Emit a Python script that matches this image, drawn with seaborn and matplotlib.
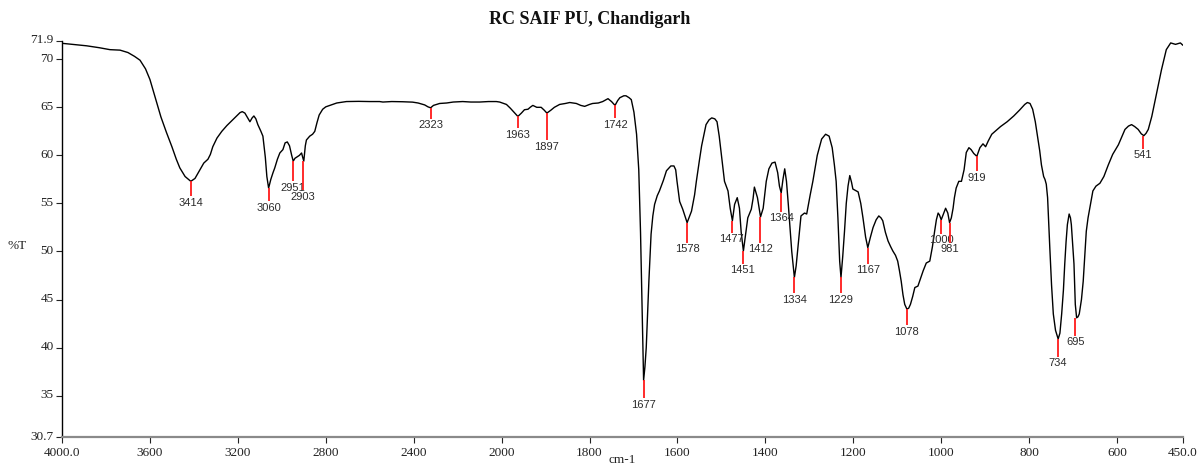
import numpy as np
import pandas as pd
import matplotlib
matplotlib.use("Agg")
import matplotlib.pyplot as plt
import matplotlib.transforms as mtransforms
import seaborn as sns

# ---------------- data ----------------
wavenumber = [
    4000, 3950, 3888, 3830, 3782, 3736, 3700, 3670, 3645, 3620, 3600, 3577, 3550, 3525,
    3500, 3480, 3464, 3440, 3414, 3395, 3375, 3355, 3336, 3325, 3314, 3295, 3273, 3250,
    3236, 3210, 3190, 3180, 3168, 3155, 3145, 3135, 3127, 3118, 3109, 3095, 3086, 3075,
    3068, 3060, 3050, 3040, 3032, 3020, 3009, 2995, 2985, 2975, 2965, 2955, 2948, 2940,
    2933, 2920, 2910, 2905, 2900, 2893, 2888, 2873, 2860, 2850, 2840, 2830, 2814, 2800,
    2782, 2750, 2706, 2650, 2600, 2555, 2540, 2500, 2450, 2405, 2380, 2350, 2335, 2323,
    2310, 2282, 2250, 2220, 2177, 2140, 2100, 2060, 2024, 2009, 1995, 1989, 1980, 1972,
    1963, 1955, 1948, 1940, 1935, 1929, 1920, 1910, 1903, 1897, 1888, 1880, 1868, 1855,
    1845, 1830, 1820, 1811, 1800, 1793, 1780, 1770, 1758, 1750, 1742, 1736, 1731, 1722,
    1717, 1710, 1705, 1699, 1693, 1688, 1684, 1680, 1677, 1674, 1671, 1668, 1665, 1660,
    1656, 1652, 1646, 1641, 1632, 1625, 1615, 1608, 1604, 1601, 1595, 1588, 1583, 1578,
    1573, 1568, 1561, 1557, 1550, 1545, 1535, 1528, 1522, 1515, 1510, 1505, 1500, 1493,
    1485, 1480, 1475, 1470, 1464, 1459, 1455, 1450, 1445, 1440, 1432, 1428, 1425, 1418,
    1411, 1405, 1398, 1392, 1385, 1378, 1372, 1368, 1364, 1360, 1356, 1352, 1348, 1345,
    1340, 1334, 1330, 1326, 1322, 1319, 1311, 1306, 1298, 1292, 1282, 1272, 1263, 1255,
    1248, 1243, 1239, 1235, 1231, 1228, 1224, 1220, 1216, 1212, 1208, 1204, 1201, 1195,
    1189, 1183, 1178, 1172, 1167, 1161, 1155, 1148, 1142, 1137, 1133, 1127, 1121, 1115,
    1110, 1104, 1099, 1095, 1091, 1087, 1083, 1078, 1074, 1070, 1065, 1060, 1053, 1047,
    1041, 1034, 1026, 1020, 1015, 1011, 1007, 1004, 1000, 995, 990, 985, 981, 977,
    973, 970, 966, 960, 954, 948, 943, 937, 932, 926, 919, 912, 905, 899,
    893, 885, 875, 865, 850, 835, 822, 810, 804, 798, 792, 786, 781, 776,
    772, 767, 764, 761, 758, 753, 749, 745, 740, 734, 730, 726, 722, 719,
    716, 713, 709, 706, 704, 701, 698, 695, 692, 689, 686, 681, 677, 673,
    670, 666, 662, 655, 648, 639, 630, 620, 610, 597, 582, 574, 567, 560,
    552, 545, 539, 534, 529, 521, 510, 499, 488, 478, 467, 456, 450,
]
transmittance = [
    71.66, 71.55, 71.4, 71.2, 71.0, 70.95, 70.7, 70.3, 69.9, 69.0, 67.9, 66.1, 64.0, 62.4,
    60.9, 59.6, 58.7, 57.8, 57.3, 57.6, 58.4, 59.2, 59.6, 60.1, 60.9, 61.8, 62.5, 63.1,
    63.4, 64.0, 64.45, 64.55, 64.4, 63.9, 63.5, 63.9, 64.1, 63.8, 63.2, 62.5, 62.0, 59.8,
    57.8, 56.6, 57.5, 58.2, 58.7, 59.6, 60.25, 60.6, 61.3, 61.4, 61.0, 60.0, 59.4, 59.7,
    59.8, 60.0, 60.25, 59.8, 59.4, 61.0, 61.6, 62.0, 62.2, 62.5, 63.4, 64.2, 64.8, 65.05,
    65.2, 65.45, 65.6, 65.62, 65.6, 65.6, 65.55, 65.6, 65.58, 65.54, 65.45, 65.25, 65.05, 64.95,
    65.2, 65.4, 65.45, 65.55, 65.6, 65.55, 65.55, 65.6, 65.6, 65.55, 65.4, 65.3, 64.9, 64.5,
    64.05, 64.4, 64.75, 64.8, 65.0, 65.2, 65.0, 65.0, 64.7, 64.4, 64.7, 65.0, 65.3, 65.4,
    65.5, 65.4, 65.2, 65.1, 65.3, 65.4, 65.45, 65.6, 65.9, 65.6, 65.2, 65.7, 66.0, 66.2,
    66.2, 66.0, 65.8, 64.5, 62.2, 58.5, 52.0, 43.0, 36.6, 38.0, 40.0, 43.5, 46.9, 51.8,
    53.7, 54.9, 55.8, 56.3, 57.4, 58.4, 58.9, 58.9, 58.5, 57.3, 55.2, 54.4, 53.7, 53.0,
    53.6, 54.2, 55.9, 57.3, 59.5, 61.0, 63.2, 63.7, 63.9, 63.8, 63.5, 62.0, 60.0, 57.3,
    56.3, 54.5, 53.2, 54.9, 55.6, 54.5, 52.0, 50.05, 51.8, 53.5, 54.4, 55.5, 56.7, 55.6,
    53.6, 54.5, 57.3, 58.6, 59.2, 59.3, 58.2, 56.8, 56.1, 57.5, 58.6, 57.3, 55.0, 53.2,
    50.0, 47.3, 48.5, 50.4, 52.3, 53.7, 54.0, 53.9, 55.9, 57.3, 60.0, 61.7, 62.2, 62.0,
    60.8, 59.0, 57.3, 53.5, 49.0, 47.3, 49.5, 52.1, 55.0, 56.8, 57.9, 57.2, 56.5, 56.35,
    56.2, 55.0, 53.5, 51.5, 50.4, 51.5, 52.5, 53.3, 53.7, 53.5, 53.2, 52.0, 51.1, 50.5,
    50.05, 49.6, 49.0, 48.0, 46.9, 45.5, 44.5, 44.0, 44.1, 44.5, 45.3, 46.25, 46.4, 47.2,
    48.0, 48.8, 49.0, 50.5, 52.1, 53.3, 54.0, 53.8, 53.3, 53.9, 54.5, 54.0, 53.0, 53.5,
    54.5, 55.6, 56.6, 57.3, 57.3, 58.5, 60.3, 60.8, 60.6, 60.2, 59.9, 60.8, 61.2, 60.9,
    61.5, 62.2, 62.6, 63.0, 63.5, 64.1, 64.7, 65.3, 65.5, 65.4, 64.8, 63.5, 62.0, 60.5,
    59.0, 57.8, 57.5, 57.0, 55.6, 50.4, 46.5, 43.5, 41.8, 40.9, 41.5, 43.5, 46.0, 48.7,
    51.0, 52.8, 53.9, 53.5, 52.8, 50.8, 48.7, 44.5, 43.1, 43.2, 43.5, 45.0, 46.9, 49.8,
    52.1, 53.5, 54.5, 56.3, 56.8, 57.1, 57.8, 59.0, 60.1, 61.1, 62.7, 63.05, 63.2, 63.0,
    62.7, 62.25, 62.05, 62.3, 62.7, 64.05, 66.5, 68.9, 71.0, 71.7, 71.55, 71.7, 71.45,
]

peak_wn = [3414, 3060, 2951, 2903, 2323, 1963, 1897, 1742, 1677, 1578, 1477, 1451,
           1412, 1364, 1334, 1229, 1167, 1078, 1000, 981, 919, 734, 695, 541]
peak_T = [57.3, 56.6, 59.4, 59.4, 64.95, 64.05, 64.4, 65.2, 36.6, 53.0, 53.2, 50.05,
          53.6, 56.1, 47.3, 47.3, 50.4, 44.0, 53.3, 53.0, 59.9, 40.9, 43.1, 62.05]

x_ticks = [4000, 3600, 3200, 2800, 2400, 2000, 1800, 1600, 1400, 1200, 1000, 800, 600, 450]
x_tick_labels = ["4000.0", "3600", "3200", "2800", "2400", "2000", "1800", "1600",
                 "1400", "1200", "1000", "800", "600", "450.0"]
y_ticks = [71.9, 70, 65, 60, 55, 50, 45, 40, 35, 30.7]
y_tick_labels = ["71.9", "70", "65", "60", "55", "50", "45", "40", "35", "30.7"]

title = "RC SAIF PU, Chandigarh"
x_label = "cm-1"
y_label = "%T"

# ---------------- layout / style ----------------
# length (px) of the red marker under each peak
marker_px = [15, 13, 20, 29, 11, 12, 27, 13, 18, 20, 12, 13,
             26, 19, 16, 16, 16, 16, 14, 20, 15, 18, 18, 13]

sns.set_style("ticks")
plt.rcParams["font.family"] = ["Liberation Serif", "DejaVu Serif"]

W, H = 1204, 466
fig = plt.figure(figsize=(W / 100, H / 100), dpi=100)
ax_l, ax_r, ax_t, ax_b = 62, 1183, 41, 437
ax = fig.add_axes([ax_l / W, 1 - ax_b / H, (ax_r - ax_l) / W, (ax_b - ax_t) / H])

df = pd.DataFrame({"wn": wavenumber, "T": transmittance})


def fwd(x):
    x = np.asarray(x, dtype=float)
    return np.where(x > 2000, 2000 + (x - 2000) / 2.0, x)


def inv(u):
    u = np.asarray(u, dtype=float)
    return np.where(u > 2000, 2000 + (u - 2000) * 2.0, u)


ax.set_xscale("function", functions=(fwd, inv))

sns.lineplot(data=df, x="wn", y="T", ax=ax, color="black", linewidth=1.0,
             estimator=None, sort=True)

ymin, ymax = 30.7, 71.9
ax.set_xlim(4000, 450)
ax.set_ylim(ymin, ymax)
px_per_unit = (ax_b - ax_t) / (ymax - ymin)

for wn, t, L, in zip(peak_wn, peak_T, marker_px):
    dy = L / px_per_unit
    ax.vlines(wn, t - dy, t, color="#ff1a1a", linewidth=1.3, zorder=3)
    ax.text(wn, t - dy - 0.15, str(wn), ha="center", va="top", fontsize=8,
            color="#2b2b2b", fontfamily="Liberation Sans")

ax.set_xticks(x_ticks)
ax.set_xticklabels(x_tick_labels)
ax.set_yticks(y_ticks)
ax.set_yticklabels(y_tick_labels)
ax.minorticks_off()
ax.tick_params(axis="both", direction="out", length=4, width=0.8, labelsize=9.5,
               colors="#222222", pad=2)
ax.tick_params(axis="x", pad=3)

offset = mtransforms.ScaledTranslation(0, 2 / 100, fig.dpi_scale_trans)
for lab in ax.get_yticklabels():
    lab.set_transform(lab.get_transform() + offset)

ax.set_xlabel("")
ax.set_ylabel("")
for s in ("top", "right"):
    ax.spines[s].set_visible(False)
ax.spines["left"].set_color("black")
ax.spines["left"].set_linewidth(1.0)
ax.spines["bottom"].set_color("#8a8a8a")
ax.spines["bottom"].set_linewidth(1.6)

fig.text(590 / W, 1 - 19 / H, title, ha="center", va="center", fontsize=13,
         fontweight="bold", color="#111111")
fig.text(17 / W, 1 - 246 / H, y_label, ha="center", va="center", fontsize=9.5,
         color="#222222")
fig.text(622 / W, 1 - 460 / H, x_label, ha="center", va="center", fontsize=9.5,
         color="#222222")

fig.savefig("out.png", dpi=100)
